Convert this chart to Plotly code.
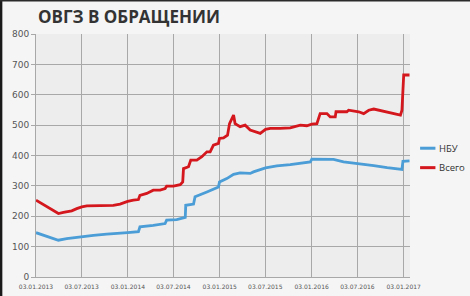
import plotly.graph_objects as go

# ---- data ----
total_dates = ["2013-01-03","2013-04-02","2013-04-22","2013-05-25","2013-06-14","2013-07-04",
               "2013-07-24","2013-09-14","2013-11-06","2013-12-03","2014-01-02","2014-01-25",
               "2014-02-14","2014-02-20","2014-03-19","2014-04-14","2014-05-11","2014-05-31",
               "2014-06-06","2014-07-03","2014-07-30","2014-08-09","2014-08-12","2014-09-01",
               "2014-09-10","2014-10-04","2014-10-24","2014-11-13","2014-11-26","2014-12-09",
               "2014-12-29","2015-01-02","2015-01-18","2015-02-03","2015-02-11","2015-02-27",
               "2015-03-05","2015-03-25","2015-04-14","2015-05-04","2015-05-31","2015-06-13",
               "2015-07-04","2015-07-23","2015-08-31","2015-10-10","2015-11-19","2015-12-15",
               "2016-01-04","2016-01-24","2016-02-06","2016-03-04","2016-03-17","2016-04-06",
               "2016-04-09","2016-05-22","2016-05-29","2016-07-08","2016-07-28","2016-08-17",
               "2016-09-06","2016-10-15","2016-11-24","2016-12-21","2016-12-27","2017-01-03",
               "2017-01-26"]
total_values = [253, 209, 213, 218, 225, 231,
                234, 234, 236, 240, 249, 253,
                255, 269, 275, 286, 286, 291,
                299, 299, 304, 313, 357, 363,
                385, 385, 396, 412, 412, 434,
                440, 456, 458, 467, 505, 533,
                505, 495, 500, 484, 478, 473,
                486, 489, 489, 491, 500, 498,
                503, 505, 538, 538, 527, 527,
                544, 544, 549, 544, 538, 549,
                553, 546, 538, 533, 549, 665,
                665]

nbu_dates = ["2013-01-03","2013-04-02","2013-05-05","2013-06-27","2013-08-19","2013-10-11",
             "2013-12-03","2014-01-02","2014-02-14","2014-02-20","2014-04-14","2014-05-31",
             "2014-06-06","2014-07-16","2014-08-19","2014-08-21","2014-09-21","2014-09-27",
             "2014-11-13","2014-12-16","2014-12-29","2015-01-02","2015-01-31","2015-02-27",
             "2015-03-25","2015-05-04","2015-05-17","2015-07-04","2015-08-18","2015-10-10",
             "2015-11-19","2015-12-29","2016-01-04","2016-03-30","2016-05-09","2016-07-05",
             "2016-09-06","2016-10-29","2016-12-27","2016-12-31","2017-01-26"]
nbu_values = [146, 121, 126, 132, 137, 141,
              143, 146, 149, 165, 170, 176,
              187, 189, 196, 236, 240, 264,
              280, 291, 296, 313, 324, 338,
              343, 341, 346, 359, 366, 370,
              374, 379, 388, 387, 379, 374,
              367, 360, 354, 381, 382]

tick_dates = ["2013-01-03","2013-07-03","2014-01-03","2014-07-03","2015-01-03",
              "2015-07-03","2016-01-03","2016-07-03","2017-01-03"]
tick_labels = ["03.01.2013","03.07.2013","03.01.2014","03.07.2014","03.01.2015",
               "03.07.2015","03.01.2016","03.07.2016","03.01.2017"]
y_ticks = [0, 100, 200, 300, 400, 500, 600, 700, 800]

title_text = "ОВГЗ В ОБРАЩЕНИИ"
series_names = ["НБУ", "Всего"]
colors = ["#4a9dd6", "#d4161d"]

fig = go.Figure()
fig.add_trace(go.Scatter(x=nbu_dates, y=nbu_values, mode="lines", name=series_names[0],
                         line=dict(color=colors[0], width=2.8)))
fig.add_trace(go.Scatter(x=total_dates, y=total_values, mode="lines", name=series_names[1],
                         line=dict(color=colors[1], width=2.8)))

fig.update_layout(
    width=470, height=296,
    margin=dict(l=36, r=60, t=34, b=19),
    paper_bgcolor="#f5f5f5",
    plot_bgcolor="#ededed",
    showlegend=False,
    font=dict(family="DejaVu Sans", color="#555"),
)
fig.update_xaxes(range=["2013-01-03", "2017-01-28"], tickvals=tick_dates, ticktext=tick_labels,
                 tickfont=dict(size=6, color="#555"), showgrid=True, gridcolor="#a8a8a8",
                 gridwidth=1, showline=True, linecolor="#a8a8a8", zeroline=False,
                 ticks="", ticklabelstandoff=4, automargin=False, fixedrange=True)
fig.update_yaxes(range=[0, 800], tickvals=y_ticks, tickfont=dict(size=9, color="#555"),
                 showgrid=True, gridcolor="#a8a8a8", gridwidth=1, zeroline=False,
                 showline=True, linecolor="#a8a8a8", ticks="outside", ticklen=4,
                 tickcolor="#a8a8a8", automargin=False, fixedrange=True)

# title
fig.add_annotation(text="<b>" + title_text + "</b>", xref="paper", yref="paper",
                   x=0, y=1.0, xanchor="left", yanchor="bottom", yshift=4, showarrow=False,
                   font=dict(family="Open Sans", size=17, color="#333"))

# manual legend
leg_y = [0.53, 0.45]
for i, name in enumerate(series_names):
    fig.add_shape(type="line", xref="paper", yref="paper", x0=1.027, x1=1.068,
                  y0=leg_y[i], y1=leg_y[i], line=dict(color=colors[i], width=3))
    fig.add_annotation(text=name, xref="paper", yref="paper", x=1.072, y=leg_y[i],
                       xanchor="left", yanchor="middle", showarrow=False,
                       font=dict(family="Open Sans", size=9.5, color="#333"))

# dark screen border (left and top)
fig.add_shape(type="rect", xref="paper", yref="paper", x0=-0.1, x1=-0.09, y0=-0.1, y1=1.15,
              fillcolor="#1a1a1a", line_width=0, layer="above")
fig.add_shape(type="rect", xref="paper", yref="paper", x0=-0.1, x1=1.2, y0=1.134, y1=1.15,
              fillcolor="#2a2a2a", line_width=0, layer="above")

fig.write_html("out.html")
